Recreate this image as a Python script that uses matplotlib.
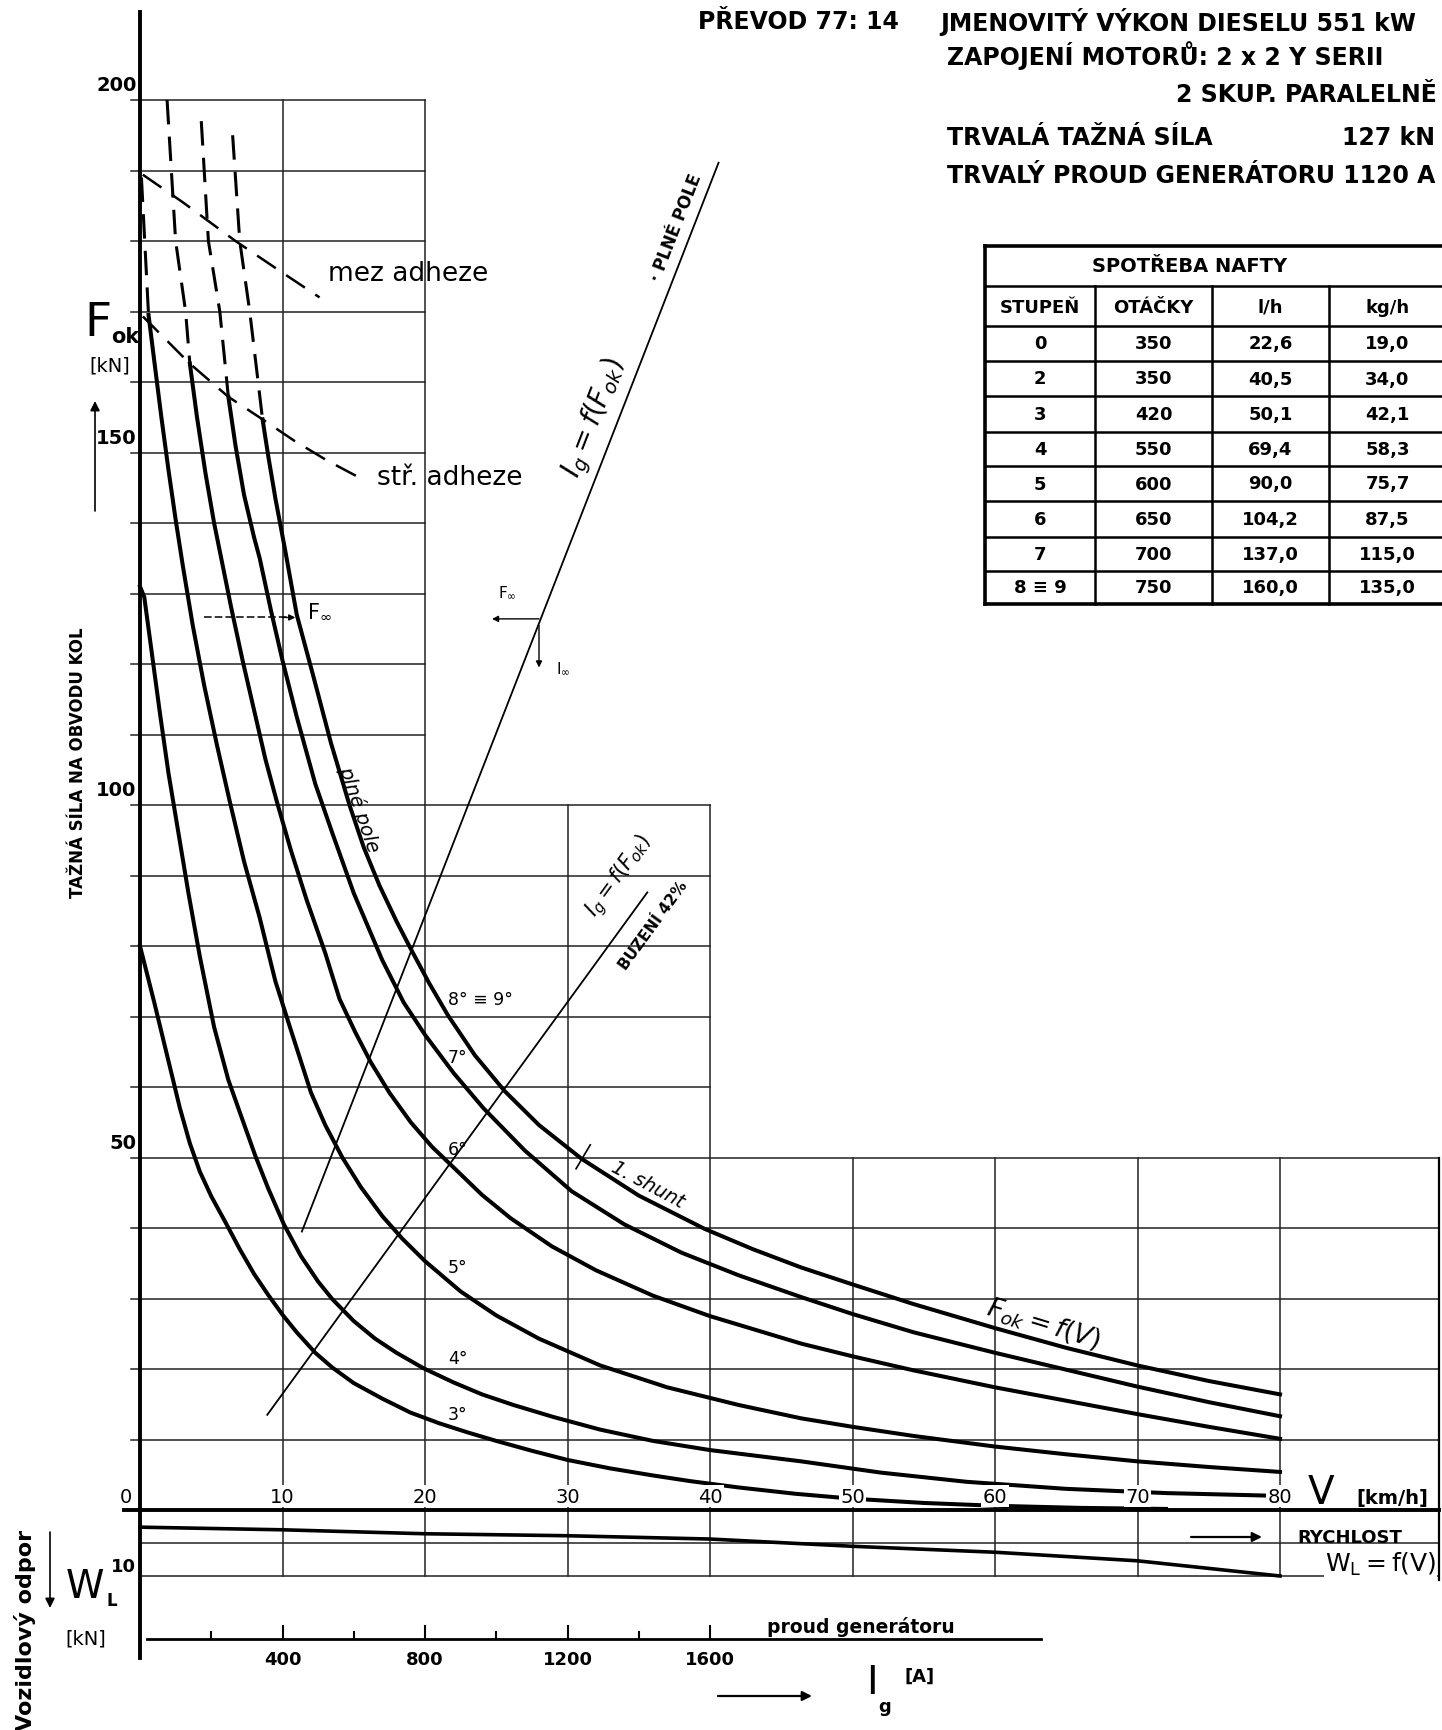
import matplotlib.pyplot as plt
from matplotlib.lines import Line2D

W_PX, H_PX = 1442, 1731

# tractive effort on the wheel rim Fok = f(V) for each controller step (V km/h, F kN)
v_st3 = [0, 0.5, 1, 1.6, 2.2, 2.8, 3.5, 4.2, 5, 6, 7, 8, 9, 10, 11, 12.3, 13.5,
         15, 17, 19, 21, 23, 25, 27.5, 30, 33, 36, 38.6, 42, 46, 50, 55, 60,
         66, 72]
f_st3 = [80, 76, 72, 67, 62, 57, 52, 48, 44.5, 40.8, 37, 33.5, 30.5, 27.7,
         25.2, 22.3, 20.2, 18, 15.8, 13.8, 12.3, 11, 9.8, 8.4, 7.1, 5.9, 4.9,
         4.1, 3.2, 2.3, 1.6, 1.0, 0.6, 0.3, 0.15]
v_st4 = [0, 0.3, 0.8, 1.4, 2, 2.7, 3.4, 4.2, 5.2, 6.2, 7.2, 8.1, 9, 10.1,
         11.3, 12.5, 13.5, 15, 16.5, 18, 19.9, 22, 24, 26.2, 29, 32.3, 36, 40,
         46.4, 52, 58, 65, 72, 80]
f_st4 = [131, 129.5, 122, 113, 104.5, 96, 87.5, 78.5, 68.5, 61, 55.3, 50.2,
         45.6, 40.5, 36, 32.4, 29.9, 26.8, 24.3, 22.3, 20.1, 18.1, 16.4, 14.9,
         13.2, 11.4, 9.8, 8.5, 6.9, 5.3, 4.0, 3.0, 2.4, 2.0]
v_st5 = [0.6, 1.0, 1.5, 2.0, 2.5, 3.0, 3.7, 4.5, 5.4, 6.3, 7.3, 8.4, 9.5,
         10.6, 12, 13, 14.2, 15.5, 17, 18.4, 20, 22.5, 25, 28, 32.3, 37, 42,
         46.4, 50, 54.3, 60, 65, 70, 75, 80]
f_st5 = [169.5, 163, 155, 147.5, 140.5, 134, 125.5, 117, 108.5, 100.5, 92,
         84, 75, 68, 59.2, 54.6, 50, 45.8, 41.7, 38.5, 35.3, 31, 27.6, 24.3,
         20.5, 17.4, 14.9, 13, 11.8, 10.5, 9, 7.9, 6.9, 6.1, 5.4]
v_st6 = [3.5, 4.0, 4.6, 5.2, 5.7, 6.4, 7.2, 8.0, 8.8, 9.6, 10.6, 11.7, 13,
         14, 15.1, 16.2, 17.5, 19, 20.5, 22, 24, 26, 28.9, 32, 36, 40, 46.4,
         50, 54.3, 60, 65, 70, 75, 80]
f_st6 = [162.6, 155, 147, 140, 135, 128, 120.5, 113.5, 106.5, 100.5, 93.5,
         86.5, 79, 72.5, 67.8, 63.5, 59.2, 55, 51.5, 48.6, 44.7, 41.4, 37.4,
         34, 30.4, 27.5, 23.6, 21.8, 19.8, 17.4, 15.5, 13.6, 11.8, 10.1]
v_st7 = [6.2, 6.7, 7.3, 8.0, 8.4, 9.2, 10, 11, 12.3, 13.5, 15, 17, 18.5, 20,
         22, 24.1, 27, 30.3, 34, 38, 42, 46.4, 50, 54.3, 60, 65, 70, 75, 80]
f_st7 = [157.9, 151, 144, 138, 135, 127.5, 120.5, 112.5, 103, 96, 87.5, 78,
         72, 67.4, 62, 57, 51, 45.2, 40.5, 36.5, 33.3, 30.2, 27.8, 25.2, 22.3,
         19.9, 17.5, 15.3, 13.3]
v_st8 = [8.6, 9.0, 9.5, 10.2, 11.0, 12.2, 13.4, 14.7, 15.7, 16.8, 18, 19,
         20.3, 21.6, 23.5, 25.6, 28, 31, 35, 39.6, 43, 46.4, 50, 54.3, 60, 65,
         70, 75, 80]
f_st8 = [154.7, 149.5, 143.5, 136, 127, 118, 108.8, 100, 94, 88.6, 83.5,
         79.6, 74.7, 70.2, 64.5, 59.4, 54.6, 49.8, 44.6, 39.9, 37, 34.4, 32,
         29.2, 25.8, 23, 20.5, 18.3, 16.4]
step_names = ["3°", "4°", "5°", "6°", "7°", "8° ≡ 9°"]

# full-field parts above the adhesion limit (dashed)
v_ext5, f_ext5 = [0.1, 0.6], [189, 169.5]
v_ext6, f_ext6 = [1.9, 2.5, 3.2, 3.5], [200, 180, 170, 162.6]
v_ext7, f_ext7 = [4.3, 4.8, 5.6, 6.2], [197, 180, 170, 157.9]
v_ext8, f_ext8 = [6.5, 7.0, 7.7, 8.6], [195, 180, 170, 154.7]

# adhesion limits
v_mez = [0.2, 3, 6.7, 10, 12.6]
f_mez = [189.4, 185.5, 180, 175.5, 172]
v_str = [0.2, 3.5, 6.2, 8.6, 10.8, 13.1, 15.8]
f_str = [169.3, 162.6, 157.9, 154.7, 151.7, 148.9, 146]

# generator current Ig = f(Fok), drawn on the V scale (400 A per 10 km/h)
v_ig_full, f_ig_full = [11.36, 40.6], [39.5, 191.1]
v_ig_weak, f_ig_weak = [8.93, 35.6], [13.5, 87.6]
ig_cont, f_cont = 1120, 127

# vehicle resistance W_L = f(V)
v_wl = [0, 10, 20, 30, 40, 50, 60, 70, 80]
w_wl = [2.6, 3.0, 3.6, 3.9, 4.4, 5.5, 6.4, 7.7, 10.0]

v_ticks = [0, 10, 20, 30, 40, 50, 60, 70, 80]
f_ticks = [50, 100, 150, 200]
ig_ticks = [200, 400, 600, 800, 1000, 1200, 1400, 1600]
ig_labels = [400, 800, 1200, 1600]

# fuel consumption table
tab_step = ["0", "2", "3", "4", "5", "6", "7", "8 ≡ 9"]
tab_rpm = ["350", "350", "420", "550", "600", "650", "700", "750"]
tab_lph = ["22,6", "40,5", "50,1", "69,4", "90,0", "104,2", "137,0", "160,0"]
tab_kgph = ["19,0", "34,0", "42,1", "58,3", "75,7", "87,5", "115,0", "135,0"]

plt.rcParams["font.family"] = ["DejaVu Sans"]

fig = plt.figure(figsize=(W_PX / 100, H_PX / 100), dpi=100)
fig.patch.set_facecolor("white")
ax = fig.add_axes([0, 0, 1, 1])
X0, XS = 140, 14.25   # pixel of V=0, pixels per km/h
Y0, YS = 1511, 7.05   # pixel of F=0, pixels per kN
ax.set_xlim(-X0 / XS, (W_PX - X0) / XS)
ax.set_ylim((Y0 - H_PX) / YS, Y0 / YS)
ax.axis("off")
W_DOWN = 0.936        # W_L axis runs downward below the V axis
V_RIGHT = (1439 - X0) / XS


def fx(x):
    return x / W_PX


def fy(y):
    return 1 - y / H_PX


def ftext(x, y, s, **kw):
    fig.text(fx(x), fy(y), s, **kw)


def fline(xs, ys, **kw):
    fig.add_artist(Line2D([fx(x) for x in xs], [fy(y) for y in ys], color="k", **kw))


def farrow(x1, y1, x2, y2, lw=1.2, ms=14):
    ax.annotate("", xy=(fx(x2), fy(y2)), xytext=(fx(x1), fy(y1)),
                xycoords="figure fraction", textcoords="figure fraction",
                arrowprops=dict(arrowstyle="-|>", color="k", lw=lw,
                                mutation_scale=ms, shrinkA=0, shrinkB=0))


def small_arrow(p_from, p_to):
    ax.annotate("", xy=p_to, xytext=p_from,
                arrowprops=dict(arrowstyle="-|>", color="k", lw=1.0,
                                mutation_scale=9, shrinkA=0, shrinkB=0))


# grid
G = dict(color="#222222", lw=1.1, zorder=1)
w10 = -10 * W_DOWN
for f in range(110, 201, 10):
    ax.plot([-0.6, 20], [f, f], **G)
for f in range(60, 101, 10):
    ax.plot([-0.6, 40], [f, f], **G)
for f in range(10, 51, 10):
    ax.plot([-0.6, V_RIGHT], [f, f], **G)
for v in (10, 20):
    ax.plot([v, v], [200, w10], **G)
for v in (30, 40):
    ax.plot([v, v], [100, w10], **G)
for v in (50, 60, 70, 80):
    ax.plot([v, v], [50, w10], **G)
ax.plot([V_RIGHT, V_RIGHT], [50, -10.6 * W_DOWN], color="k", lw=1.6)
for w in (5, 10):
    ax.plot([0, V_RIGHT], [-w * W_DOWN] * 2, **G)

# axes
ax.plot([0, 0], [212.5, -21], color="k", lw=2.8, zorder=4)
ax.plot([-1.1, V_RIGHT], [0, 0], color="k", lw=2.8, zorder=4)

# traction curves
curves = [(v_st3, f_st3), (v_st4, f_st4), (v_st5, f_st5),
          (v_st6, f_st6), (v_st7, f_st7), (v_st8, f_st8)]
for v, f in curves:
    ax.plot(v, f, color="k", lw=2.9, zorder=3, solid_joinstyle="round")
for v, f in [(v_ext5, f_ext5), (v_ext6, f_ext6), (v_ext7, f_ext7), (v_ext8, f_ext8)]:
    ax.plot(v, f, color="k", lw=2.2, ls=(0, (8, 4)), zorder=3)
ax.plot(v_mez, f_mez, color="k", lw=1.8, ls=(0, (9, 5)), zorder=3)
ax.plot(v_str, f_str, color="k", lw=1.8, ls=(0, (9, 5)), zorder=3)
ax.text(13.2, 175.5, "mez adheze", fontsize=19, ha="left", va="center")
ax.text(16.6, 146.5, "stř. adheze", fontsize=19, ha="left", va="center")

for name, fpos in zip(step_names, [13.6, 21.5, 34.5, 51.2, 64.2, 72.5]):
    ax.text(21.6, fpos, name, fontsize=12.5, ha="left", va="center")

# generator current lines
ax.plot(v_ig_full, f_ig_full, color="k", lw=1.3, zorder=2)
ax.plot(v_ig_weak, f_ig_weak, color="k", lw=1.3, zorder=2)
ax.text(31.9, 155, r"$I_g = f(F_{ok})$", fontsize=20, rotation=68.7,
        ha="center", va="center")
ax.text(37.6, 182, "· PLNÉ POLE", fontsize=12, fontweight="bold",
        rotation=68.7, ha="center", va="center")
ax.text(33.6, 90, r"$I_g = f(F_{ok})$", fontsize=15, rotation=54,
        ha="center", va="center")
ax.text(36.0, 83.0, "BUZENÍ 42%", fontsize=11, fontweight="bold",
        rotation=54, ha="center", va="center")

# continuous rating point
v_cont = ig_cont / 40
small_arrow((v_cont, f_cont - 0.6), (v_cont - 3.3, f_cont - 0.6))
small_arrow((v_cont, f_cont - 1.5), (v_cont, f_cont - 7.5))
ax.text(v_cont - 2.2, f_cont + 3.2, r"$\mathrm{F_{\infty}}$", fontsize=11,
        ha="center", va="center")
ax.text(v_cont + 1.7, f_cont - 7.5, r"$\mathrm{I_{\infty}}$", fontsize=11,
        ha="center", va="center")
ax.plot([4.5, 10.3], [f_cont - 0.4] * 2, color="k", lw=1.1, ls=(0, (5, 2)))
small_arrow((10.0, f_cont - 0.4), (10.9, f_cont - 0.4))
ax.text(11.7, f_cont + 0.6, r"$\mathrm{F_{\infty}}$", fontsize=15,
        ha="left", va="center")

# curve annotations
ax.text(15.4, 99.5, "plné pole", fontsize=14, style="italic", rotation=-71,
        ha="center", va="center")
ax.text(35.6, 46.2, "1. shunt", fontsize=14, style="italic", rotation=-28,
        ha="center", va="center")
ax.plot([30.6, 31.6], [48.4, 51.8], color="k", lw=1.2)
ax.text(63.4, 26.4, r"$F_{ok} = f(V)$", fontsize=19, rotation=-17,
        ha="center", va="center")

# vehicle resistance
ax.plot(v_wl, [-w * W_DOWN for w in w_wl], color="k", lw=2.6, zorder=3)
ax.text(V_RIGHT - 0.2, -10.1 * W_DOWN, r"$\mathrm{W_L = f(V)}$", fontsize=18,
        ha="right", va="bottom", bbox=dict(fc="white", ec="none", pad=0.5))
ax.text(-0.3, -9.2, "10", fontsize=13, fontweight="bold", ha="right", va="bottom")

# tick labels
for v in v_ticks:
    ax.text(v if v else -1.0, 0.6, str(v), fontsize=14, ha="center", va="bottom",
            zorder=6, bbox=dict(fc="white", ec="none", pad=1.0))
for f in f_ticks:
    ax.text(-0.25, f + 0.8, str(f), fontsize=14, fontweight="bold",
            ha="right", va="bottom")

# generator current scale
IG_Y = (Y0 - 1640) / YS
ax.plot([0.5, 63.2], [IG_Y, IG_Y], color="k", lw=2.0)
for ig in ig_ticks:
    h = 1.8 if ig in ig_labels else 1.0
    ax.plot([ig / 40, ig / 40], [IG_Y, IG_Y + h], color="k", lw=1.5)
for ig in ig_labels:
    ax.text(ig / 40, IG_Y - 1.6, str(ig), fontsize=13, fontweight="bold",
            ha="center", va="top")
ax.text(44.0, IG_Y + 0.4, "proud generátoru", fontsize=13.5, fontweight="bold",
        ha="left", va="bottom")

# axis titles
ftext(78, 763, "TAŽNÁ SÍLA NA OBVODU KOL", fontsize=12, fontweight="bold",
      rotation=90, ha="center", va="center")
ftext(84, 336, "F", fontsize=34, va="baseline")
ftext(111, 343, "ok", fontsize=15, fontweight="bold", va="baseline")
ftext(110, 372, "[kN]", fontsize=14, ha="center", va="baseline")
farrow(95, 512, 95, 402)
ftext(25, 1530, "Vozidlový odpor", fontsize=16, fontweight="bold",
      rotation=90, ha="center", va="top")
ftext(66, 1598, "W", fontsize=28, va="baseline")
ftext(106, 1606, "L", fontsize=12, fontweight="bold", va="baseline")
ftext(86, 1645, "[kN]", fontsize=14, ha="center", va="baseline")
farrow(50, 1533, 50, 1609)
ftext(1308, 1504, "V", fontsize=28, va="baseline")
ftext(1392, 1504, "[km/h]", fontsize=14, fontweight="bold", ha="center",
      va="baseline")
farrow(1191, 1538, 1262, 1538, lw=1.6)
ftext(1297, 1538, "RYCHLOST", fontsize=13, fontweight="bold", ha="left",
      va="center")
ftext(866, 1694, "I", fontsize=28, va="baseline")
ftext(878, 1712, "g", fontsize=13, fontweight="bold", va="baseline")
ftext(904, 1682, "[A]", fontsize=13, fontweight="bold", va="baseline")
farrow(718, 1697, 812, 1697, lw=1.6)

# header
ftext(698, 22, "PŘEVOD 77: 14", fontsize=17, fontweight="bold", va="center")
ftext(940, 22, "JMENOVITÝ VÝKON DIESELU 551 kW", fontsize=17, fontweight="bold",
      va="center")
ftext(947, 56, "ZAPOJENÍ MOTORŮ: 2 x 2 Y SERII", fontsize=17, fontweight="bold",
      va="center")
ftext(1437, 95, "2 SKUP. PARALELNĚ", fontsize=17, fontweight="bold", ha="right",
      va="center")
ftext(947, 138, "TRVALÁ TAŽNÁ SÍLA", fontsize=17, fontweight="bold", va="center")
ftext(1435, 138, "127 kN", fontsize=17, fontweight="bold", ha="right", va="center")
ftext(947, 176, "TRVALÝ PROUD GENERÁTORU 1120 A", fontsize=17, fontweight="bold",
      va="center")

# fuel consumption table
col_x = [985, 1095, 1212, 1329, 1446]
row_y = [247, 287, 327, 362, 397, 433, 467, 502, 538, 572, 605]
for i, y in enumerate(row_y):
    fline([col_x[0], col_x[-1]], [y, y], lw=2.6 if i in (0, len(row_y) - 1) else 1.8)
fline([col_x[0], col_x[0]], [row_y[0], row_y[-1]], lw=2.6)
for x in col_x[1:-1]:
    fline([x, x], [row_y[1], row_y[-1]], lw=1.8)
ftext(1190, 267, "SPOTŘEBA NAFTY", fontsize=14, fontweight="bold",
      ha="center", va="center")
centers = [(col_x[j] + col_x[j + 1]) / 2 for j in range(4)]
for cx, head in zip(centers, ["STUPEŇ", "OTÁČKY", "l/h", "kg/h"]):
    ftext(cx, 308, head, fontsize=13, fontweight="bold", ha="center", va="center")
for i, row in enumerate(zip(tab_step, tab_rpm, tab_lph, tab_kgph)):
    cy = (row_y[i + 2] + row_y[i + 3]) / 2
    for cx, s in zip(centers, row):
        ftext(cx, cy, s, fontsize=13, fontweight="bold", ha="center", va="center")

fig.savefig("out.png", dpi=100, facecolor="white")
